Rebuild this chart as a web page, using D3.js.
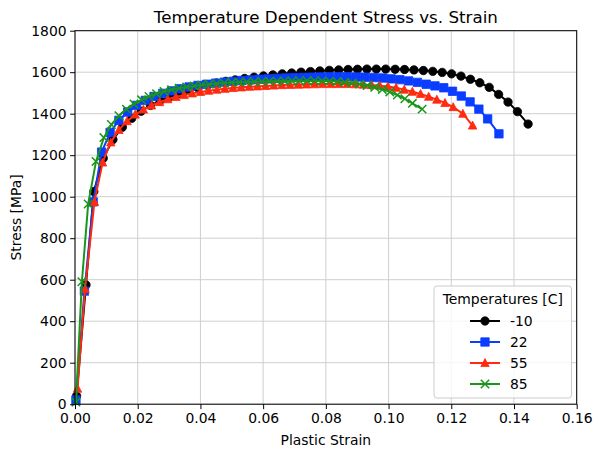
<!DOCTYPE html>
<html>
<head>
<meta charset="utf-8">
<script src="https://cdn.jsdelivr.net/npm/d3@7"></script>
<style>
  html, body { margin: 0; padding: 0; background: #fff; }
  svg { display: block; font-family: "DejaVu Sans", sans-serif; }
</style>
</head>
<body>
<svg id="chart" width="593" height="452"></svg>
<script>
// ---------- data ----------
const temperatures = ["-10", "22", "55", "85"];
const xTicks = [0, 0.02, 0.04, 0.06, 0.08, 0.10, 0.12, 0.14, 0.16];
const yTicks = [0, 200, 400, 600, 800, 1000, 1200, 1400, 1600, 1800];

const strainM10 = [0.0005, 0.0035, 0.0060, 0.0090, 0.0121, 0.0151, 0.0181, 0.0211, 0.0241, 0.0271,
  0.0301, 0.0331, 0.0361, 0.0391, 0.0421, 0.0451, 0.0481, 0.0511, 0.0541, 0.0571,
  0.0601, 0.0631, 0.0661, 0.0691, 0.0721, 0.0751, 0.0781, 0.0811, 0.0841, 0.0871,
  0.0901, 0.0931, 0.0961, 0.0991, 0.1021, 0.1051, 0.1081, 0.1111, 0.1141, 0.1171,
  0.1201, 0.1231, 0.1261, 0.1291, 0.1321, 0.1351, 0.1381, 0.1411, 0.1445];
const stressM10 = [40, 575, 1025, 1185, 1275, 1335, 1378, 1412, 1440, 1462,
  1481, 1498, 1513, 1526, 1538, 1548, 1556, 1563, 1570, 1576,
  1582, 1587, 1592, 1596, 1600, 1603, 1606, 1609, 1611, 1613,
  1614, 1615, 1615, 1615, 1614, 1613, 1611, 1608, 1604, 1599,
  1592, 1581, 1566, 1549, 1527, 1493, 1456, 1410, 1350];

const strain22 = [0.0003, 0.0030, 0.0058, 0.0085, 0.0112, 0.0140, 0.0168, 0.0196, 0.0224, 0.0252,
  0.0280, 0.0308, 0.0336, 0.0364, 0.0392, 0.0420, 0.0448, 0.0476, 0.0504, 0.0532,
  0.0560, 0.0588, 0.0616, 0.0644, 0.0672, 0.0700, 0.0728, 0.0756, 0.0784, 0.0812,
  0.0840, 0.0868, 0.0896, 0.0924, 0.0952, 0.0980, 0.1008, 0.1036, 0.1064, 0.1092,
  0.1120, 0.1148, 0.1176, 0.1204, 0.1232, 0.1260, 0.1288, 0.1316, 0.1352];
const stress22 = [20, 545, 975, 1215, 1310, 1368, 1408, 1440, 1464, 1483,
  1498, 1510, 1520, 1529, 1536, 1542, 1547, 1552, 1556, 1560,
  1563, 1566, 1568, 1570, 1572, 1574, 1575, 1576, 1577, 1578,
  1578, 1578, 1577, 1576, 1574, 1572, 1568, 1564, 1558, 1551,
  1542, 1534, 1525, 1508, 1485, 1457, 1422, 1375, 1303];

const strain55 = [0.0008, 0.0032, 0.0062, 0.0088, 0.0114, 0.0140, 0.0166, 0.0192, 0.0218, 0.0244,
  0.0270, 0.0296, 0.0322, 0.0348, 0.0374, 0.0400, 0.0426, 0.0452, 0.0478, 0.0504,
  0.0530, 0.0556, 0.0582, 0.0608, 0.0634, 0.0660, 0.0686, 0.0712, 0.0738, 0.0764,
  0.0790, 0.0816, 0.0842, 0.0868, 0.0894, 0.0920, 0.0946, 0.0972, 0.0998, 0.1024,
  0.1050, 0.1076, 0.1102, 0.1128, 0.1154, 0.1180, 0.1206, 0.1237, 0.1268];
const stress55 = [75, 555, 975, 1165, 1262, 1322, 1364, 1396, 1420, 1440,
  1456, 1470, 1481, 1490, 1498, 1505, 1511, 1516, 1520, 1524,
  1527, 1530, 1532, 1534, 1536, 1538, 1539, 1540, 1541, 1542,
  1543, 1543, 1543, 1543, 1542, 1540, 1538, 1535, 1531, 1525,
  1516, 1506, 1495, 1482, 1468, 1452, 1432, 1400, 1343];

const strain85 = [0.0003, 0.0022, 0.0042, 0.0067, 0.0092, 0.0116, 0.0140, 0.0164, 0.0188, 0.0212,
  0.0236, 0.0260, 0.0284, 0.0308, 0.0332, 0.0356, 0.0380, 0.0404, 0.0428, 0.0452,
  0.0476, 0.0500, 0.0524, 0.0548, 0.0572, 0.0596, 0.0620, 0.0644, 0.0668, 0.0692,
  0.0716, 0.0740, 0.0764, 0.0788, 0.0812, 0.0836, 0.0860, 0.0884, 0.0908, 0.0932,
  0.0956, 0.0980, 0.1004, 0.1028, 0.1052, 0.1076, 0.1107];
const stress85 = [10, 590, 965, 1170, 1285, 1348, 1390, 1422, 1447, 1467,
  1483, 1496, 1507, 1516, 1523, 1529, 1534, 1538, 1542, 1545,
  1548, 1550, 1552, 1553, 1554, 1555, 1556, 1557, 1558, 1558,
  1559, 1559, 1559, 1558, 1557, 1555, 1552, 1548, 1543, 1536,
  1527, 1517, 1505, 1490, 1472, 1450, 1422];

const seriesColors = ["#000000", "#0a3dff", "#ff2a0f", "#1a961a"];
const seriesMarkers = ["circle", "square", "triangle", "x"];

const seriesList = [
  { name: temperatures[0], x: strainM10, y: stressM10 },
  { name: temperatures[1], x: strain22, y: stress22 },
  { name: temperatures[2], x: strain55, y: stress55 },
  { name: temperatures[3], x: strain85, y: stress85 }
];

// ---------- layout ----------
const svg = d3.select("#chart");
const margin = { left: 75, right: 16.3, top: 30.7, bottom: 47.8 };
const W = 593, H = 452;
const FS = 13.9;
const x = d3.scaleLinear().domain([0, 0.16]).range([margin.left, W - margin.right]);
const y = d3.scaleLinear().domain([0, 1800]).range([H - margin.bottom, margin.top]);

svg.append("rect").attr("width", W).attr("height", H).attr("fill", "#fff");

// grid
const grid = svg.append("g").attr("stroke", "#cfcfcf").attr("stroke-width", 1);
grid.selectAll(".gx").data(xTicks).enter().append("line")
  .attr("x1", d => x(d)).attr("x2", d => x(d))
  .attr("y1", y(0)).attr("y2", y(1800));
grid.selectAll(".gy").data(yTicks).enter().append("line")
  .attr("y1", d => y(d)).attr("y2", d => y(d))
  .attr("x1", x(0)).attr("x2", x(0.16));

// clip
svg.append("clipPath").attr("id", "clip").append("rect")
  .attr("x", x(0) - 6).attr("y", y(1800)).attr("width", x(0.16) - x(0) + 6).attr("height", y(0) - y(1800) + 6);

function markerPath(type, s) {
  if (type === "circle") return d3.symbol().type(d3.symbolCircle).size(Math.PI * s * s / 4)();
  if (type === "square") { const h = s / 2; return `M${-h},${-h}H${h}V${h}H${-h}Z`; }
  if (type === "triangle") { const h = s / 2; return `M0,${-h * 1.05}L${h},${h * 0.85}L${-h},${h * 0.85}Z`; }
  if (type === "x") { const h = s / 2; return `M${-h},${-h}L${h},${h}M${-h},${h}L${h},${-h}`; }
}

const plot = svg.append("g").attr("clip-path", "url(#clip)");
const line = d3.line().x(d => x(d[0])).y(d => y(d[1]));
const MS = 8.4;

seriesList.forEach((s, i) => {
  const pts = s.x.map((v, k) => [v, s.y[k]]);
  const g = plot.append("g");
  g.append("path").datum(pts).attr("d", line)
    .attr("fill", "none").attr("stroke", seriesColors[i]).attr("stroke-width", 2);
  g.selectAll("path.m").data(pts).enter().append("path").attr("class", "m")
    .attr("transform", d => `translate(${x(d[0])},${y(d[1])})`)
    .attr("d", markerPath(seriesMarkers[i], MS))
    .attr("fill", seriesMarkers[i] === "x" ? "none" : seriesColors[i])
    .attr("stroke", seriesColors[i])
    .attr("stroke-width", seriesMarkers[i] === "x" ? 1.5 : 0.8);
});

// axes
const xAxis = d3.axisBottom(x).tickValues(xTicks).tickFormat(d3.format(".2f")).tickSize(4.9).tickPadding(4);
const yAxis = d3.axisLeft(y).tickValues(yTicks).tickFormat(d3.format("d")).tickSize(4.9).tickPadding(3.5);
const gx = svg.append("g").attr("transform", `translate(0,${y(0)})`).call(xAxis);
const gy = svg.append("g").attr("transform", `translate(${x(0)},0)`).call(yAxis);
[gx, gy].forEach(g => {
  g.selectAll("text").attr("font-size", FS).attr("fill", "#000").attr("font-family", "DejaVu Sans");
  g.selectAll("line").attr("stroke", "#000").attr("stroke-width", 1);
  g.select(".domain").remove();
});
// spines
svg.append("rect").attr("x", x(0)).attr("y", y(1800)).attr("width", x(0.16) - x(0)).attr("height", y(0) - y(1800))
  .attr("fill", "none").attr("stroke", "#000").attr("stroke-width", 1);

// title & labels
svg.append("text").attr("x", (x(0) + x(0.16)) / 2).attr("y", 23).attr("text-anchor", "middle")
  .attr("font-size", 16.7).text("Temperature Dependent Stress vs. Strain");
svg.append("text").attr("x", (x(0) + x(0.16)) / 2).attr("y", 445).attr("text-anchor", "middle")
  .attr("font-size", FS).text("Plastic Strain");
svg.append("text").attr("transform", `translate(21,${(y(0) + y(1800)) / 2}) rotate(-90)`).attr("text-anchor", "middle")
  .attr("font-size", FS).text("Stress [MPa]");

// legend
const lg = svg.append("g");
const lx = 434, ly = 286, lw = 137.5, lh = 112;
lg.append("rect").attr("x", lx).attr("y", ly).attr("width", lw).attr("height", lh).attr("rx", 3)
  .attr("fill", "#fff").attr("fill-opacity", 0.8).attr("stroke", "#cccccc").attr("stroke-width", 1);
lg.append("text").attr("x", lx + lw / 2).attr("y", ly + 18).attr("text-anchor", "middle")
  .attr("font-size", FS).text("Temperatures [C]");
seriesList.forEach((s, i) => {
  const yy = ly + 35 + i * 21;
  lg.append("line").attr("x1", 470).attr("x2", 500).attr("y1", yy).attr("y2", yy)
    .attr("stroke", seriesColors[i]).attr("stroke-width", 2);
  lg.append("path").attr("transform", `translate(485,${yy})`).attr("d", markerPath(seriesMarkers[i], MS))
    .attr("fill", seriesMarkers[i] === "x" ? "none" : seriesColors[i])
    .attr("stroke", seriesColors[i]).attr("stroke-width", seriesMarkers[i] === "x" ? 1.5 : 0.8);
  lg.append("text").attr("x", 510).attr("y", yy + 5).attr("font-size", FS).text(s.name);
});
</script>
</body>
</html>
